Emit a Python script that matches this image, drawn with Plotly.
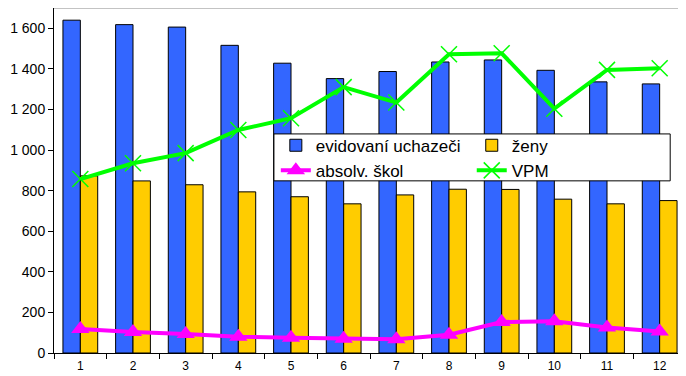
import plotly.graph_objects as go

categories = ["1", "2", "3", "4", "5", "6", "7", "8", "9", "10", "11", "12"]
evidovani = [1640, 1618, 1606, 1516, 1428, 1352, 1387, 1434, 1444, 1393, 1336, 1326]
zeny = [873, 848, 829, 794, 770, 735, 779, 807, 806, 758, 735, 751]
absolv = [118, 103, 94, 80, 75, 70, 68, 90, 153, 156, 126, 106]
vpm = [857, 935, 985, 1099, 1157, 1310, 1234, 1472, 1477, 1204, 1395, 1403]

FONT = "Liberation Sans, Arial, sans-serif"

fig = go.Figure()
fig.add_trace(go.Bar(x=categories, y=evidovani, name="evidovaní uchazeči", legend="legend",
                     marker=dict(color="#3366FF", line=dict(color="black", width=1))))
fig.add_trace(go.Bar(x=categories, y=zeny, name="ženy", legend="legend2",
                     marker=dict(color="#FFCC00", line=dict(color="black", width=1))))
fig.add_trace(go.Scatter(x=categories, y=absolv, name="absolv. škol", mode="lines+markers",
                         legend="legend",
                         line=dict(color="#FF00FF", width=4),
                         marker=dict(symbol="triangle-up", size=16, color="#FF00FF")))
fig.add_trace(go.Scatter(x=categories, y=vpm, name="VPM", mode="lines+markers",
                         legend="legend2",
                         line=dict(color="#00FF00", width=4),
                         marker=dict(symbol="x-thin-open", size=16, color="#00FF00",
                                     line=dict(color="#00FF00", width=1.5))))

legend_common = dict(yanchor="top", xanchor="left", orientation="v",
                     bgcolor="rgba(0,0,0,0)", borderwidth=0, traceorder="normal",
                     font=dict(family=FONT, size=17, color="black"))

# page body has an 8px margin: figure sized/margined so the plot area lands where the reference has it
fig.update_layout(
    width=678, height=368,
    margin=dict(l=46, r=0, t=0, b=23, autoexpand=False),
    paper_bgcolor="white", plot_bgcolor="white",
    barmode="group", bargap=0.34, bargroupgap=0,
    separators=", ",
    font=dict(family=FONT, color="black"),
    showlegend=True,
    legend=dict(x=0.351, y=0.653, **legend_common),
    legend2=dict(x=0.661, y=0.653, **legend_common),
    xaxis=dict(type="category", range=[-0.5, 11.5], showline=True, linecolor="black",
               linewidth=1, ticks="outside", tickson="boundaries", ticklen=5,
               tickcolor="black", ticklabelstandoff=2,
               tickfont=dict(size=12), showgrid=False, zeroline=False, automargin=False),
    yaxis=dict(range=[0, 1700], dtick=200, tick0=0, showline=True, linecolor="black",
               linewidth=1, ticks="outside", ticklen=5, tickcolor="black",
               separatethousands=True, tickformat=",d", automargin=False,
               tickfont=dict(size=14), showgrid=False, zeroline=False),
    shapes=[
        dict(type="line", xref="paper", yref="paper", x0=0, x1=1, y0=1, y1=1,
             line=dict(color="#888888", width=1)),
        dict(type="rect", xref="paper", yref="paper", x0=0.348, x1=0.975, y0=0.499, y1=0.635,
             layer="above", fillcolor="white", line=dict(color="black", width=1)),
    ],
)

fig.write_html("out.html")
